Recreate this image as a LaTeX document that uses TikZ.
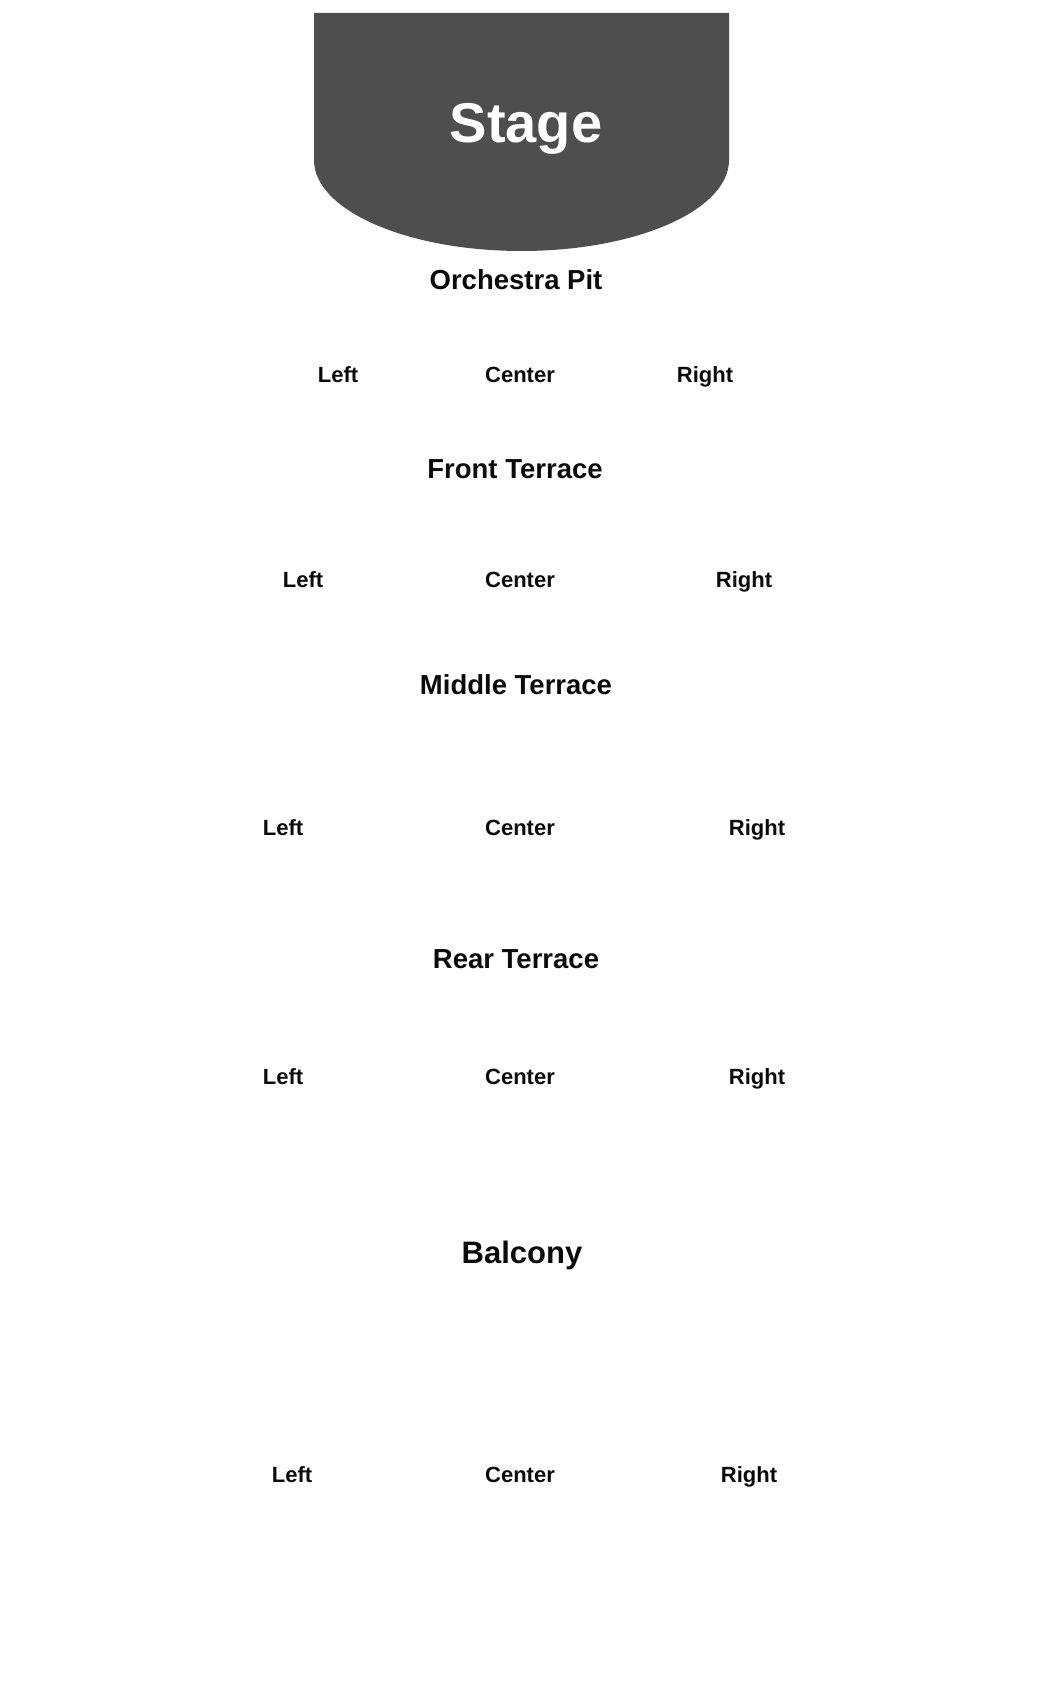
\documentclass[tikz,border=0pt]{standalone}
\usepackage{fontspec}
\setmainfont{Liberation Sans}
\definecolor{stagegray}{HTML}{4E4E4E}
\definecolor{labelink}{HTML}{0A0A0A}
\begin{document}
\begin{tikzpicture}[x=0.5pt,y=-0.5pt,
    zone/.style={anchor=base,inner sep=0pt,text=labelink,font=\fontsize{13.75}{16}\selectfont\bfseries},
    seat/.style={anchor=base,inner sep=0pt,text=labelink,font=\fontsize{11}{13}\selectfont\bfseries}]
  \useasboundingbox (0,0) rectangle (1050,1700);
  \fill[stagegray] (314,13) -- (729,13) -- (729,160)
    arc[start angle=0,end angle=180,x radius=207.5,y radius=91] -- cycle;
  \node[anchor=base,inner sep=0pt,text=white,font=\fontsize{28}{32}\selectfont\bfseries] (stage) at (526,143) {Stage};
  \node[zone] (pit) at (516,290) {Orchestra Pit};
  \node[seat] (pitL) at (338,383) {Left};
  \node[seat] (pitC) at (520,383) {Center};
  \node[seat] (pitR) at (705,383) {Right};
  \node[zone] (front) at (515,478) {Front Terrace};
  \node[seat] (frontL) at (303,587) {Left};
  \node[seat] (frontC) at (520,587) {Center};
  \node[seat] (frontR) at (744,587) {Right};
  \node[zone] (middle) at (516,694) {Middle Terrace};
  \node[seat] (middleL) at (283,835) {Left};
  \node[seat] (middleC) at (520,835) {Center};
  \node[seat] (middleR) at (757,835) {Right};
  \node[zone] (rear) at (516,968) {Rear Terrace};
  \node[seat] (rearL) at (283,1084) {Left};
  \node[seat] (rearC) at (520,1084) {Center};
  \node[seat] (rearR) at (757,1084) {Right};
  \node[zone,font=\fontsize{15.5}{18}\selectfont\bfseries] (balcony) at (522,1263) {Balcony};
  \node[seat] (balconyL) at (292,1482) {Left};
  \node[seat] (balconyC) at (520,1482) {Center};
  \node[seat] (balconyR) at (749,1482) {Right};
\end{tikzpicture}
\end{document}
